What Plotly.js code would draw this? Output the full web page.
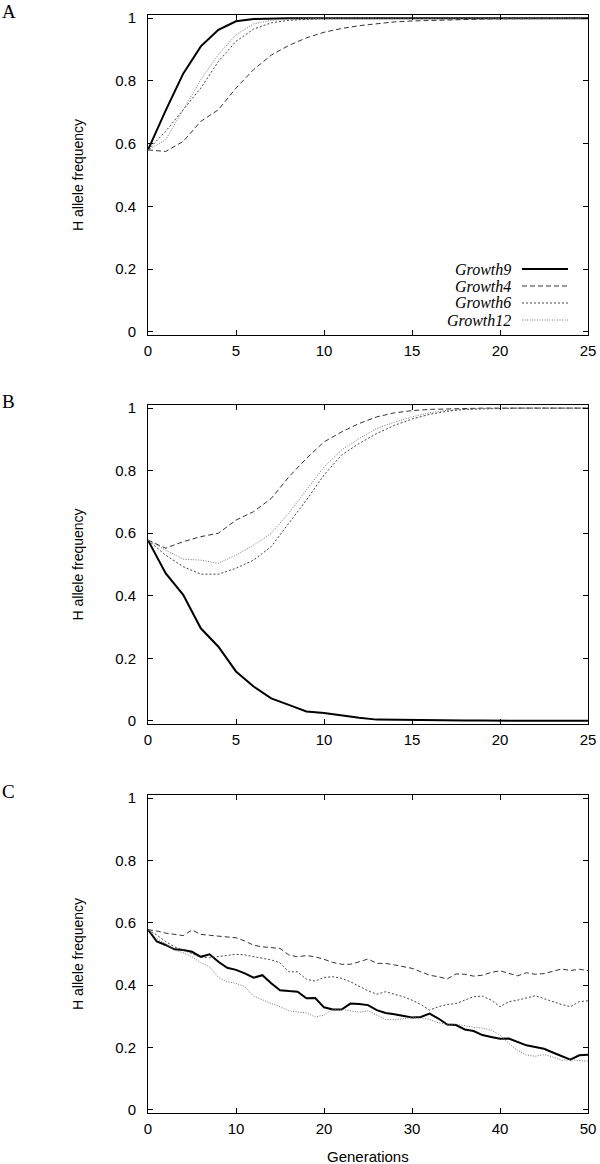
<!DOCTYPE html>
<html>
<head>
<meta charset="utf-8">
<script src="https://cdn.plot.ly/plotly-3.0.1.min.js"></script>
<style>html,body{margin:0;padding:0;background:#fff;}#chart{width:600px;height:1164px;}</style>
</head>
<body>
<div id="chart"></div>
<script>
// ---- Data ----
const seriesNames = ['Growth9', 'Growth4', 'Growth6', 'Growth12'];
const panelLabels = ['A', 'B', 'C'];
const xTitle = 'Generations';
const yTitle = 'H allele frequency';

// Panel A: generations 0..25
const A_growth9  = [0.58, 0.705, 0.823, 0.91, 0.963, 0.99, 0.997, 0.999, 1, 1, 1, 1, 1, 1, 1, 1, 1, 1, 1, 1, 1, 1, 1, 1, 1, 1];
const A_growth4  = [0.58, 0.575, 0.607, 0.671, 0.708, 0.777, 0.836, 0.882, 0.913, 0.937, 0.955, 0.967, 0.976, 0.983, 0.988, 0.991, 0.993, 0.995, 0.996, 0.997, 0.998, 0.998, 0.999, 0.999, 0.999, 0.999];
const A_growth6  = [0.58, 0.639, 0.708, 0.777, 0.862, 0.926, 0.965, 0.985, 0.993, 0.997, 0.999, 1, 1, 1, 1, 1, 1, 1, 1, 1, 1, 1, 1, 1, 1, 1];
const A_growth12 = [0.58, 0.612, 0.708, 0.804, 0.884, 0.947, 0.982, 0.993, 0.997, 0.999, 1, 1, 1, 1, 1, 1, 1, 1, 1, 1, 1, 1, 1, 1, 1, 1];

// Panel B: generations 0..25
const B_growth9  = [0.578, 0.472, 0.403, 0.296, 0.237, 0.158, 0.11, 0.072, 0.051, 0.03, 0.025, 0.017, 0.01, 0.004, 0.003, 0.002, 0.002, 0.001, 0.001, 0.001, 0, 0, 0, 0, 0, 0];
const B_growth4  = [0.578, 0.552, 0.573, 0.589, 0.6, 0.642, 0.669, 0.711, 0.78, 0.839, 0.892, 0.924, 0.951, 0.972, 0.985, 0.992, 0.996, 0.998, 0.999, 1, 1, 1, 1, 1, 1, 1];
const B_growth6  = [0.578, 0.53, 0.493, 0.469, 0.469, 0.488, 0.514, 0.557, 0.632, 0.706, 0.786, 0.85, 0.887, 0.919, 0.945, 0.965, 0.98, 0.99, 0.996, 0.998, 1, 1, 1, 1, 1, 1];
const B_growth12 = [0.578, 0.546, 0.517, 0.514, 0.504, 0.53, 0.562, 0.6, 0.664, 0.738, 0.812, 0.866, 0.903, 0.935, 0.955, 0.972, 0.985, 0.993, 0.997, 0.999, 1, 1, 1, 1, 1, 1];

// Panel C: generations 0..50
const C_growth9  = [0.578, 0.54, 0.529, 0.515, 0.513, 0.507, 0.491, 0.499, 0.475, 0.456, 0.449, 0.438, 0.424, 0.432, 0.406, 0.384, 0.381, 0.379, 0.358, 0.359, 0.329, 0.322, 0.322, 0.341, 0.34, 0.336, 0.32, 0.311, 0.307, 0.301, 0.296, 0.298, 0.309, 0.293, 0.274, 0.272, 0.258, 0.253, 0.24, 0.234, 0.228, 0.229, 0.218, 0.207, 0.202, 0.196, 0.184, 0.173, 0.161, 0.175, 0.177];
const C_growth4  = [0.578, 0.574, 0.567, 0.562, 0.559, 0.577, 0.563, 0.56, 0.558, 0.556, 0.552, 0.542, 0.528, 0.523, 0.521, 0.518, 0.497, 0.491, 0.495, 0.491, 0.483, 0.473, 0.467, 0.467, 0.475, 0.484, 0.47, 0.47, 0.465, 0.459, 0.454, 0.443, 0.432, 0.427, 0.42, 0.436, 0.435, 0.429, 0.432, 0.441, 0.446, 0.438, 0.43, 0.44, 0.435, 0.437, 0.444, 0.452, 0.447, 0.451, 0.447];
const C_growth6  = [0.578, 0.561, 0.54, 0.523, 0.513, 0.502, 0.489, 0.488, 0.491, 0.496, 0.499, 0.497, 0.491, 0.486, 0.481, 0.472, 0.443, 0.443, 0.419, 0.413, 0.425, 0.427, 0.422, 0.411, 0.397, 0.382, 0.371, 0.379, 0.371, 0.363, 0.352, 0.338, 0.32, 0.331, 0.338, 0.341, 0.352, 0.363, 0.365, 0.352, 0.331, 0.347, 0.352, 0.359, 0.366, 0.357, 0.347, 0.338, 0.331, 0.347, 0.35];
const C_growth12 = [0.578, 0.55, 0.532, 0.513, 0.504, 0.491, 0.472, 0.459, 0.425, 0.411, 0.406, 0.395, 0.365, 0.352, 0.341, 0.331, 0.318, 0.314, 0.311, 0.298, 0.304, 0.323, 0.323, 0.318, 0.313, 0.318, 0.304, 0.29, 0.289, 0.292, 0.296, 0.294, 0.29, 0.279, 0.275, 0.275, 0.269, 0.265, 0.262, 0.256, 0.24, 0.213, 0.191, 0.176, 0.172, 0.177, 0.17, 0.159, 0.161, 0.159, 0.156];

const yTickVals = [0, 0.2, 0.4, 0.6, 0.8, 1];
const yTickText = ['0', '0.2', '0.4', '0.6', '0.8', '1'];

// ---- Styles ----
const lineStyles = [
  {color: '#000000', width: 2, dash: 'solid'},
  {color: '#333333', width: 1, dash: '5px,3px'},
  {color: '#444444', width: 1, dash: '2px,2px'},
  {color: '#777777', width: 1, dash: '1px,1.5px'}
];
const sans = 'Liberation Sans, Arial, Helvetica, sans-serif';
const serif = 'Liberation Serif, Times New Roman, serif';

const panels = [
  {data: [A_growth9, A_growth4, A_growth6, A_growth12], xmax: 25, dtick: 5, dom: [0.71220, 0.98711]},
  {data: [B_growth9, B_growth4, B_growth6, B_growth12], xmax: 25, dtick: 5, dom: [0.37801, 0.65206]},
  {data: [C_growth9, C_growth4, C_growth6, C_growth12], xmax: 50, dtick: 10, dom: [0.04381, 0.31701]}
];

const xDomain = [148 / 600, 588 / 600];
const traces = [];
const layout = {
  width: 600, height: 1164,
  margin: {l: 0, r: 0, t: 0, b: 0},
  paper_bgcolor: '#ffffff', plot_bgcolor: '#ffffff',
  showlegend: false,
  font: {family: sans, size: 15, color: '#000'},
  annotations: [], shapes: []
};

function axisCommon() {
  return {
    showline: true, linecolor: '#000', linewidth: 1, mirror: 'ticks',
    ticks: 'inside', ticklen: 5, tickwidth: 1, tickcolor: '#000',
    showgrid: false, zeroline: false,
    tickfont: {family: sans, size: 15, color: '#000'}
  };
}

panels.forEach((p, pi) => {
  const sfx = pi === 0 ? '' : String(pi + 1);
  const gens = p.data[0].map((_, i) => i);
  p.data.forEach((vals, si) => {
    traces.push({
      type: 'scatter', mode: 'lines', name: seriesNames[si],
      x: gens, y: vals,
      xaxis: 'x' + sfx, yaxis: 'y' + sfx,
      line: lineStyles[si], hoverinfo: 'skip'
    });
  });
  layout['xaxis' + sfx] = Object.assign(axisCommon(), {
    domain: xDomain, range: [0, p.xmax], dtick: p.dtick, tick0: 0,
    anchor: 'y' + sfx, ticklabelstandoff: 2
  });
  layout['yaxis' + sfx] = Object.assign(axisCommon(), {
    domain: p.dom, range: [-0.01, 1.01], tickvals: yTickVals, ticktext: yTickText,
    anchor: 'x' + sfx, ticklabelstandoff: 8
  });
  // y title
  layout.annotations.push({
    xref: 'paper', yref: 'paper', x: 78 / 600, y: (p.dom[0] + p.dom[1]) / 2,
    text: yTitle, textangle: -90, showarrow: false,
    font: {family: sans, size: 14, color: '#000'}, xanchor: 'center', yanchor: 'middle'
  });
  // panel letter
  layout.annotations.push({
    xref: 'paper', yref: 'paper', x: 1 / 600, y: Math.min(1, p.dom[1] + 15 / 1164),
    text: panelLabels[pi], showarrow: false, xanchor: 'left', yanchor: 'top',
    borderpad: 0,
    font: {family: serif, size: 19, color: '#000'}
  });
});

// x title on bottom panel
layout.annotations.push({
  xref: 'paper', yref: 'paper', x: (xDomain[0] + xDomain[1]) / 2, y: 1 - 1156 / 1164,
  text: xTitle, showarrow: false, xanchor: 'center', yanchor: 'middle',
  font: {family: sans, size: 15, color: '#000'}
});

// gnuplot-style key (text left of sample) in panel A
const keyRowsY = [269, 286, 303, 320];
seriesNames.forEach((nm, i) => {
  const yp = 1 - keyRowsY[i] / 1164;
  layout.annotations.push({
    xref: 'paper', yref: 'paper', x: 512 / 600, y: yp,
    text: '<i>' + nm + '</i>', showarrow: false, xanchor: 'right', yanchor: 'middle',
    borderpad: 0,
    font: {family: serif, size: 16, color: '#000'}
  });
  layout.shapes.push({
    type: 'line', xref: 'paper', yref: 'paper',
    x0: 522 / 600, x1: 568 / 600, y0: yp, y1: yp,
    line: {color: lineStyles[i].color, width: lineStyles[i].width, dash: lineStyles[i].dash}
  });
});

Plotly.newPlot('chart', traces, layout, {staticPlot: true, displayModeBar: false});
</script>
</body>
</html>
